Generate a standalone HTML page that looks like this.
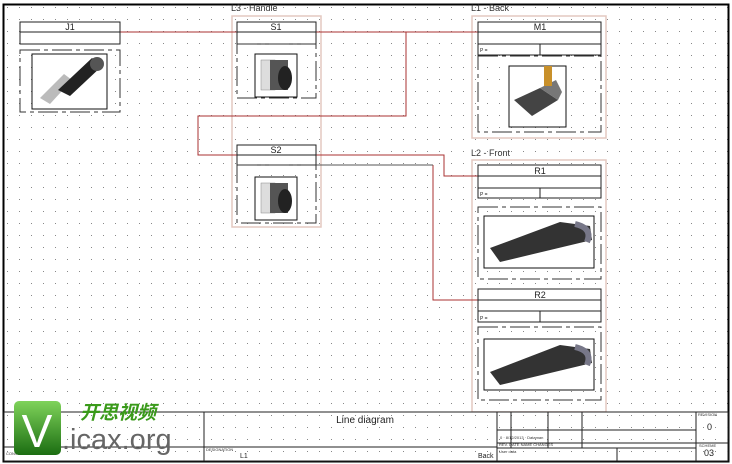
<!DOCTYPE html>
<html><head><style>body{margin:0;background:#fff}svg{display:block}text{font-family:"Liberation Sans","Noto Sans CJK SC",sans-serif}</style></head><body>
<svg width="732" height="464" viewBox="0 0 732 464" xmlns="http://www.w3.org/2000/svg">
<defs>
<pattern id="d" width="12" height="12" patternUnits="userSpaceOnUse" x="2" y="2"><rect x="5" y="5" width="1" height="1" fill="#888"/></pattern>
<linearGradient id="g" x1="0" y1="0" x2="0" y2="1"><stop offset="0" stop-color="#7fd35a"/><stop offset="1" stop-color="#1b6d12"/></linearGradient>
</defs>
<rect width="732" height="464" fill="#fff"/>
<rect x="4" y="4" width="724" height="456" fill="url(#d)"/>
<rect x="3.5" y="4.5" width="725" height="457" fill="none" stroke="#000" stroke-width="2"/>
<g fill="none" stroke="#e4c8c0" stroke-width="1.5">
<rect x="232" y="16" width="89" height="211"/>
<rect x="472" y="16" width="134" height="122"/>
<rect x="472" y="160" width="134" height="252"/>
</g>
<g font-size="9" fill="#333"><text x="231" y="11">L3 - Handle</text><text x="471" y="11">L1 - Back</text><text x="471" y="156">L2 - Front</text></g>
<g fill="none" stroke="#a83232" stroke-width="1">
<polyline points="120,32 478,32"/>
<polyline points="316,32 406,32 406,116 198,116 198,155 237,155"/>
<polyline points="316,155 444,155 444,176 478,176"/>
<polyline points="433,165 433,300 478,300"/>
</g>
<line x1="316" y1="165" x2="433" y2="165" stroke="#555"/>
<g fill="#fff" stroke="#222" stroke-width="1">
<rect x="20" y="22" width="100" height="22"/><line x1="20" y1="32" x2="120" y2="32"/>
<rect x="237" y="22" width="79" height="22"/><line x1="237" y1="32" x2="316" y2="32"/>
<rect x="237" y="145" width="79" height="20"/><line x1="237" y1="155" x2="316" y2="155"/>
<rect x="478" y="22" width="123" height="33"/><line x1="478" y1="32" x2="601" y2="32"/><line x1="478" y1="44" x2="601" y2="44"/><line x1="540" y1="44" x2="540" y2="55"/>
<rect x="478" y="165" width="123" height="33"/><line x1="478" y1="176" x2="601" y2="176"/><line x1="478" y1="188" x2="601" y2="188"/><line x1="540" y1="188" x2="540" y2="198"/>
<rect x="478" y="289" width="123" height="33"/><line x1="478" y1="300" x2="601" y2="300"/><line x1="478" y1="311" x2="601" y2="311"/><line x1="540" y1="311" x2="540" y2="322"/>
</g>
<g font-size="9" fill="#222" text-anchor="middle"><text x="70" y="30">J1</text><text x="276" y="30">S1</text><text x="276" y="153">S2</text><text x="540" y="30">M1</text><text x="540" y="174">R1</text><text x="540" y="298">R2</text></g>
<g font-size="5" fill="#222"><text x="480" y="52">P =</text><text x="480" y="196">P =</text><text x="480" y="320">P =</text></g>
<g fill="none" stroke="#333" stroke-width="1" stroke-dasharray="20,4,4,4">
<rect x="20" y="50" width="100" height="62"/><rect x="237" y="44" width="79" height="54"/><rect x="237" y="165" width="79" height="58"/>
<rect x="478" y="56" width="123" height="76"/><rect x="478" y="207" width="123" height="72"/><rect x="478" y="327" width="123" height="73"/>
</g>
<g fill="#fff" stroke="#111" stroke-width="1">
<rect x="32" y="54" width="75" height="55"/><rect x="255" y="54" width="42" height="43"/><rect x="255" y="177" width="42" height="43"/>
<rect x="509" y="66" width="57" height="61"/><rect x="484" y="216" width="110" height="52"/><rect x="484" y="339" width="110" height="51"/>
</g>
<g>
<polygon points="40,98 50,104 72,80 64,74" fill="#bbb"/><polygon points="58,90 70,96 102,66 92,58" fill="#222"/><ellipse cx="97" cy="64" rx="7" ry="7" fill="#555"/>
<rect x="261" y="60" width="14" height="30" fill="#ddd" stroke="#888" stroke-width=".5"/><rect x="270" y="60" width="18" height="30" fill="#555"/><ellipse cx="285" cy="78" rx="7" ry="12" fill="#222"/>
<rect x="261" y="183" width="14" height="30" fill="#ddd" stroke="#888" stroke-width=".5"/><rect x="270" y="183" width="18" height="30" fill="#555"/><ellipse cx="285" cy="201" rx="7" ry="12" fill="#222"/>
<polygon points="514,100 540,88 558,100 532,116" fill="#444"/><polygon points="540,88 556,80 562,92 558,100" fill="#777"/><rect x="544" y="66" width="8" height="20" fill="#c8902a"/>
<polygon points="490,248 560,222 590,226 592,240 500,262" fill="#333"/><path d="M575,224 q18,4 12,18" stroke="#778" stroke-width="6" fill="none"/>
<polygon points="490,372 560,345 590,349 592,363 500,385" fill="#333"/><path d="M575,347 q18,4 12,18" stroke="#778" stroke-width="6" fill="none"/>
</g>
<rect x="4" y="412" width="724" height="49" fill="#fff" stroke="#222"/>
<rect x="4" y="412" width="724" height="49" fill="url(#d)"/>
<g stroke="#222" stroke-width="1" fill="none">
<line x1="4" y1="447" x2="497" y2="447"/><line x1="204" y1="412" x2="204" y2="461"/><line x1="497" y1="412" x2="497" y2="461"/>
<line x1="696" y1="412" x2="696" y2="461"/>
<line x1="497" y1="430" x2="696" y2="430"/><line x1="497" y1="443" x2="696" y2="443"/><line x1="497" y1="448" x2="696" y2="448"/>
<line x1="511" y1="412" x2="511" y2="448"/><line x1="548" y1="412" x2="548" y2="448"/><line x1="582" y1="412" x2="582" y2="448"/>
<line x1="617" y1="448" x2="617" y2="461"/><line x1="696" y1="443" x2="728" y2="443"/>
</g>
<g font-size="10" fill="#222"><text x="365" y="423" text-anchor="middle">Line diagram</text><text x="240" y="458" font-size="7">L1</text><text x="478" y="458" font-size="7">Back</text>
<text x="707" y="430" font-size="9">0</text><text x="704" y="456" font-size="9">03</text></g>
<g font-size="4" fill="#333"><text x="500" y="439">0 · 8/12/2013 · Dataman</text><text x="499" y="446">REV.    DATE     NAME                    CHANGES</text><text x="499" y="453">User data</text><text x="6" y="455">CONSULT N°</text><text x="206" y="451">DESIGNATION</text><text x="698" y="416">REVISION</text><text x="699" y="447">SCHEME</text></g>
<rect x="14" y="401" width="47" height="54" rx="5" fill="url(#g)"/>
<text x="37" y="447" font-size="46" fill="#fff" text-anchor="middle">V</text>
<text x="80" y="419" font-size="19" font-style="italic" font-weight="bold" fill="#3a9a1a">开思视频</text>
<text x="62" y="449" font-size="29" fill="#666">.icax.org</text>
</svg>
</body></html>
